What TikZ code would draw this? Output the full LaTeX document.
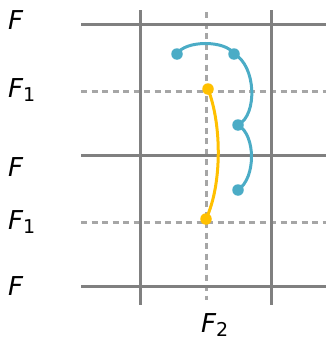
\documentclass[tikz,border=0pt]{standalone}
\usepackage{fontspec}
\setmainfont{DejaVu Sans}
\usepackage{tikz}
\definecolor{gridgray}{HTML}{808080}
\definecolor{dashgray}{HTML}{A6A6A6}
\definecolor{loopblue}{HTML}{4BACC6}
\definecolor{pathgold}{HTML}{FFC000}
\newcommand{\lowsub}[1]{\raisebox{-4.5pt}{\upshape\fontsize{19}{22}\selectfont #1}}

\begin{document}
\begin{tikzpicture}[x=1pt,y=-1pt,
  gridline/.style={gridgray,line width=3pt},
  halfline/.style={dashgray,line width=3pt,dash pattern=on 6pt off 4.5pt},
  lbl/.style={anchor=base west,inner sep=0pt,font=\fontsize{26}{30}\selectfont\itshape},
  dot/.style={circle,fill=#1,inner sep=0pt,minimum size=11.5pt}]
 \useasboundingbox (0,0) rectangle (326,340);
 % grid
 \draw[halfline] (81,91) -- (326,91); \draw[halfline] (81,222) -- (326,222);
 \draw[halfline] (206,12) -- (206,300);
 \foreach \y in {24,155,286} \draw[gridline] (81,\y) -- (326,\y);
 \foreach \x in {140,271} \draw[gridline] (\x,10) -- (\x,305);
 % labels
 \node[lbl] (f0) at (8,29) {F};
 \node[lbl] (f1) at (8,97) {F\lowsub{1}};
 \node[lbl] (f2) at (8,176) {F};
 \node[lbl] (f3) at (8,229) {F\lowsub{1}};
 \node[lbl] (f4) at (8,295) {F};
 \node[lbl] (fb) at (201,332) {F\lowsub{2}};
 % blue loops
 \coordinate (b1) at (177,54); \coordinate (b2) at (234,54);
 \coordinate (b3) at (238,125); \coordinate (b4) at (238,190);
 \draw[loopblue,line width=3pt] (b1) .. controls (185,40) and (226,40) .. (b2)
   .. controls (256,65) and (258,115) .. (b3)
   .. controls (256,135) and (256,178) .. (b4);
 \foreach \p in {b1,b2,b3,b4} \node[dot=loopblue] (\p dot) at (\p) {};
 % gold path
 \coordinate (y1) at (208,89); \coordinate (y2) at (206,219);
 \draw[pathgold,line width=3pt] (y1) .. controls (222,125) and (222,185) .. (y2);
 \foreach \p in {y1,y2} \node[dot=pathgold] (\p dot) at (\p) {};
\end{tikzpicture}
\end{document}
